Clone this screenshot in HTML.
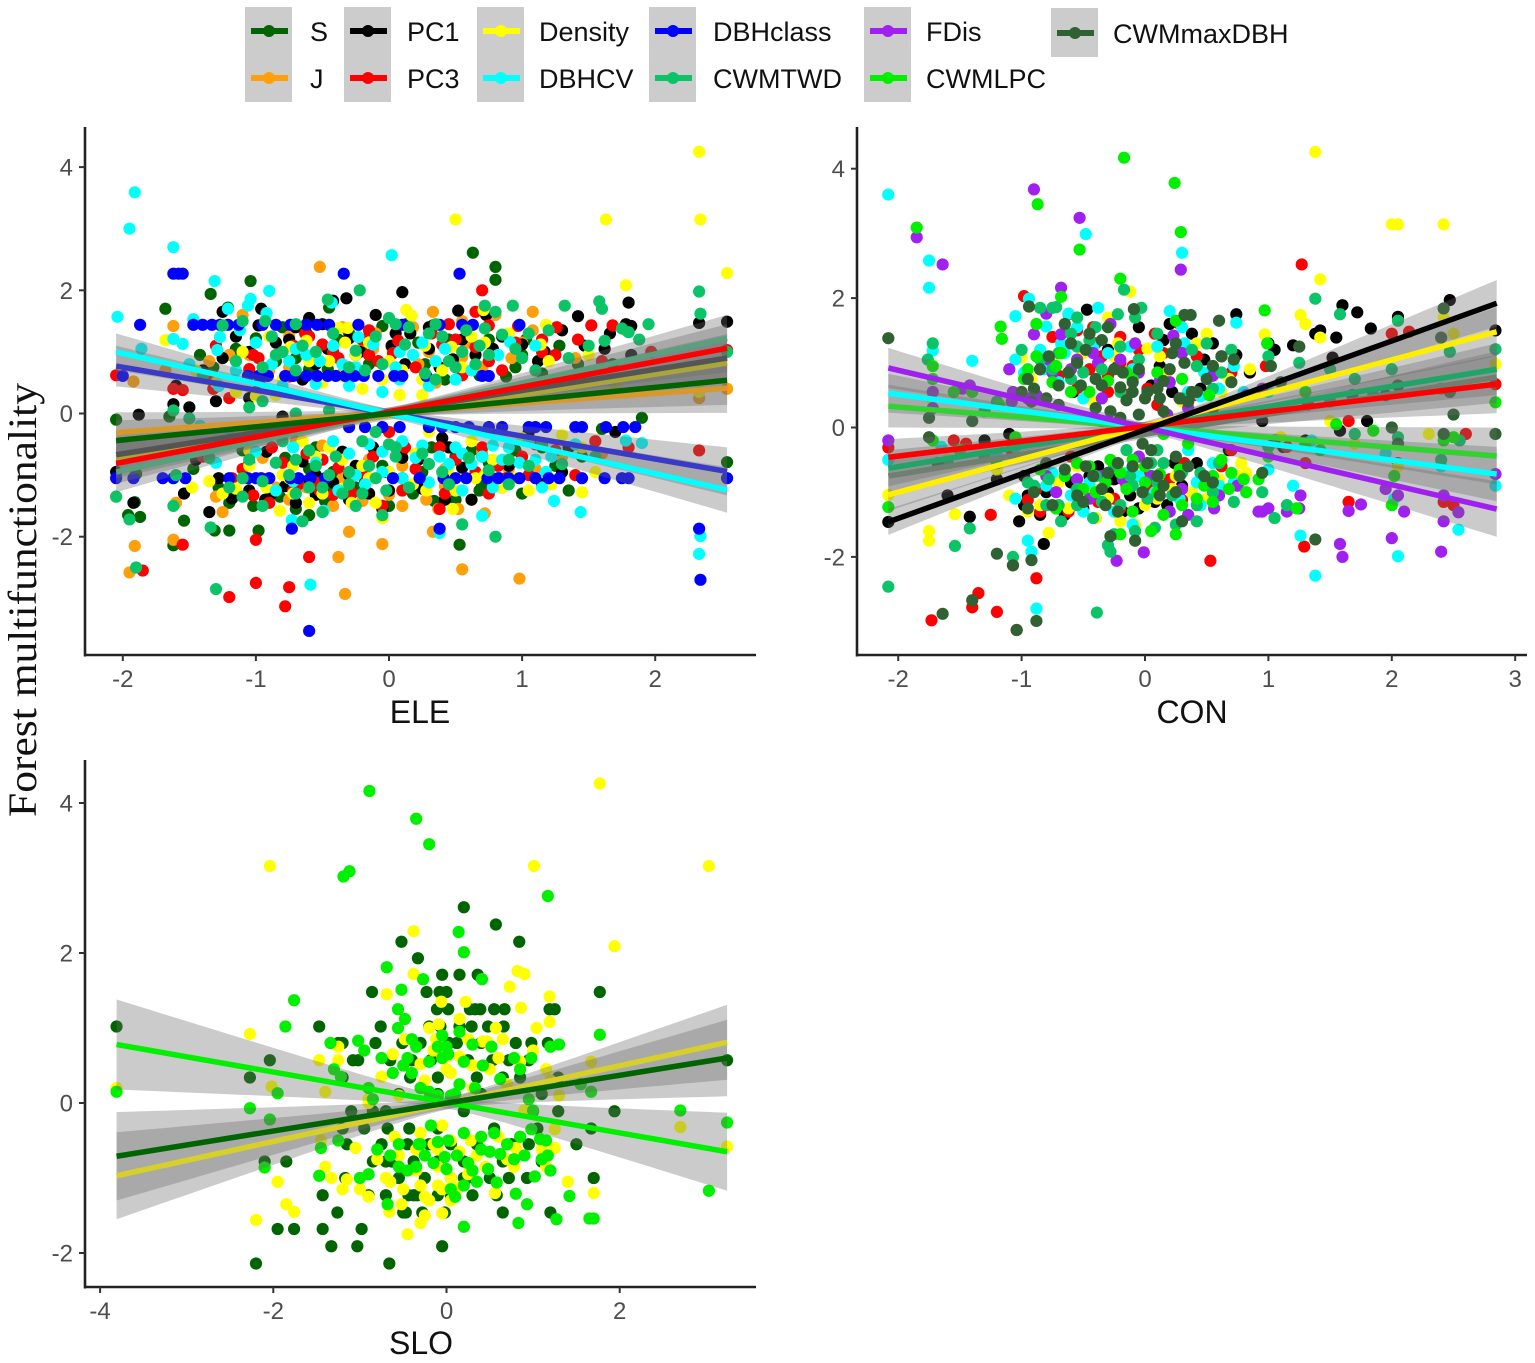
<!DOCTYPE html>
<html lang="en">
<head>
<meta charset="utf-8">
<title>Forest multifunctionality regressions</title>
<style>
html,body{margin:0;padding:0;background:#fff;}
body{width:1535px;height:1363px;overflow:hidden;position:relative;font-family:"Liberation Sans",sans-serif;}
svg{position:absolute;left:0;top:0;}
</style>
</head>
<body>
<svg id="chart" width="1535" height="1363" viewBox="0 0 1535 1363" xmlns="http://www.w3.org/2000/svg"></svg>
<script>
/* ---------- categories ---------- */
const legendRow1 = ['S','PC1','Density','DBHclass','FDis','CWMmaxDBH'];
const legendRow2 = ['J','PC3','DBHCV','CWMTWD','CWMLPC'];
const eleTicksX = [-2,-1,0,1,2];
const conTicksX = [-2,-1,0,1,2,3];
const sloTicksX = [-4,-2,0,2];
const ticksY = [-2,0,2,4];
const eleTicksY = [-2,0,2,4];
const sloTicksY = [-2,0,2,4];

/* ---------- ELE panel ---------- */
const eleSeries = ['Density','J','PC1','CWMTWD','DBHclass','DBHCV','PC3','S'];
const eleLineStart = [-0.72,-0.31,-0.67,-0.95,0.77,1.0,-0.81,-0.44];
const eleLineEnd = [0.82,0.41,0.9,1.22,-0.94,-1.24,1.06,0.54];
const eleBandLeft = [0.33,0.33,0.33,0.33,0.33,0.3,0.33,0.33];
const eleBandRight = [0.39,0.4,0.39,0.38,0.39,0.37,0.39,0.4];
const eleBandMid = [0.07,0.07,0.07,0.07,0.07,0.07,0.07,0.07];

const eleS = [[0.63,2.61],[0.8,2.38],[0.8,2.17],[-1.68,1.7],[-1.34,1.94],[-1.04,2.15],[-1.21,1.72],[-0.45,1.72],[-0.62,1.45],[-0.3,1.3],[0.13,1.45],[0.33,1.43],[0.75,1.2],[1.03,1.2],[-0.8,1.4],[-1.0,1.22],[-0.18,1.05],[0.45,1.2],[0.6,1.25],[1.0,0.95],[1.42,0.8],[1.68,0.8],[-1.32,0.75],[-0.7,0.9],[-0.15,0.8],[0.27,0.8],[-0.46,0.72],[0.88,0.6],[1.15,0.65],[-0.97,0.55],[-2.05,-0.1],[1.9,-0.07],[1.6,-0.25],[1.15,-0.55],[1.45,-0.7],[-1.65,-0.05],[-1.32,-0.5],[-0.95,-0.3],[-0.55,-0.55],[0.1,-0.6],[0.5,-0.7],[0.75,-0.8],[-0.2,-0.9],[-1.9,-0.98],[-1.47,-0.9],[-1.05,-0.8],[-0.6,-0.9],[-1.91,-1.44],[-1.96,-1.65],[-1.87,-1.68],[-1.62,-2.14],[-1.54,-1.74],[-1.31,-1.9],[-1.2,-1.9],[-0.98,-1.9],[0.53,-2.13],[2.54,-0.79],[-1.28,-1.2],[-1.02,-1.5],[-0.7,-1.55],[-0.45,-1.25],[0.0,-1.5],[0.34,-1.42],[0.68,-1.25],[0.83,-1.05],[1.0,-1.3],[-0.25,-1.2],[-0.6,-1.65],[-0.15,-1.3],[0.25,-0.95],[0.7,-1.15]];
const eleJ = [[-0.52,2.38],[0.33,1.65],[1.08,1.65],[0.8,1.6],[-1.62,1.42],[-1.1,1.6],[-0.65,1.4],[-0.35,1.4],[-0.1,1.3],[0.18,1.4],[0.55,1.5],[1.08,1.35],[1.78,1.35],[-1.05,0.95],[-1.2,0.95],[-0.42,1.0],[-0.12,1.05],[0.02,1.08],[0.22,0.8],[0.55,0.92],[0.92,0.9],[1.2,0.9],[-0.75,0.75],[-0.35,0.65],[0.35,0.5],[-1.92,0.52],[-1.68,0.7],[-0.9,0.7],[0.7,0.75],[2.33,0.25],[2.54,0.4],[-1.05,-0.25],[-0.7,-0.45],[-0.15,-0.75],[0.42,-0.9],[0.9,-0.9],[1.3,-0.7],[1.6,-0.65],[-2.05,-1.35],[-1.6,-1.45],[-1.3,-1.35],[-0.85,-1.2],[-0.42,-1.5],[0.0,-1.32],[0.28,-1.4],[0.52,-1.55],[-1.62,-2.05],[-1.91,-2.15],[-1.95,-2.58],[-0.3,-1.92],[-0.38,-2.33],[0.33,-1.92],[0.37,-1.55],[0.55,-2.53],[0.98,-2.68],[-0.33,-2.93],[0.72,-1.62],[0.1,-1.5],[-0.05,-2.12],[-0.35,-1.05],[-1.25,-1.6],[-0.62,-1.2]];
const elePC1 = [[-0.42,1.83],[-0.32,1.87],[0.1,1.97],[0.52,1.67],[1.42,1.58],[1.8,1.8],[1.82,1.42],[1.78,1.45],[1.66,1.3],[2.33,1.47],[2.54,1.49],[0.73,1.6],[0.3,1.4],[-0.1,1.6],[-0.6,1.55],[-0.5,1.45],[-0.7,1.4],[-0.96,1.7],[-1.25,1.65],[-0.98,1.43],[-0.75,1.2],[-0.62,1.3],[-0.22,1.0],[0.16,1.3],[0.02,1.1],[0.55,1.2],[0.85,1.25],[1.17,1.0],[1.47,1.1],[1.82,0.95],[-1.05,1.0],[-1.25,0.9],[-0.46,1.05],[-0.25,0.95],[0.12,0.8],[0.38,0.75],[0.65,0.95],[1.12,0.85],[-1.6,0.45],[-1.28,0.45],[-0.65,0.55],[-1.88,-0.02],[-1.62,0.15],[-1.5,0.1],[-1.3,0.2],[-1.05,0.25],[1.05,-0.3],[-0.8,-0.05],[-0.45,-0.1],[0.4,-0.4],[0.45,-0.55],[0.7,-0.7],[-0.12,-0.55],[-0.25,-0.85],[0.1,-0.72],[0.75,-1.0],[0.9,-0.85],[-2.05,-0.95],[-1.92,-1.45],[-1.54,-1.3],[-1.28,-1.05],[-1.35,-1.6],[-1.05,-1.25],[-0.93,-1.4],[-0.88,-1.3],[-0.7,-1.45],[-0.62,-1.1],[-0.55,-1.32],[-0.3,-1.4],[-0.15,-1.3],[-0.05,-1.55],[0.0,-1.25],[0.42,-1.4],[0.1,-1.05],[-0.3,-1.0],[-0.55,-1.0]];
const elePC3 = [[0.7,2.0],[0.65,1.65],[0.5,1.2],[0.45,1.45],[-0.63,1.3],[-0.42,1.0],[-0.15,0.95],[-0.6,1.25],[-0.15,1.35],[0.07,1.18],[0.32,1.3],[0.75,1.43],[0.97,1.42],[1.26,1.4],[1.52,1.43],[1.68,1.43],[1.97,1.0],[2.54,1.03],[-1.02,0.95],[-0.98,0.9],[-0.38,0.9],[-0.08,0.85],[0.2,0.75],[0.65,1.08],[0.75,0.85],[0.95,1.15],[1.15,1.2],[1.15,1.0],[1.25,0.95],[-2.05,0.62],[-0.75,0.6],[-1.35,0.6],[-1.32,0.4],[-1.2,0.25],[-1.0,0.35],[-1.62,0.4],[-1.55,0.38],[0.3,0.5],[2.33,-0.6],[1.1,-0.5],[1.55,-0.45],[0.0,-0.3],[-0.5,-0.75],[-0.28,-1.0],[-0.52,-1.25],[-0.8,-0.8],[-0.68,-1.15],[-1.02,-1.33],[-1.1,-0.9],[-0.9,-1.05],[0.82,-0.85],[0.5,-0.75],[0.2,-0.9],[-0.3,-1.2],[0.65,-0.95],[0.88,-1.05],[1.05,-1.0],[1.4,-1.0],[1.8,-0.55],[-0.28,-1.3],[-0.42,-1.32],[-0.9,-1.45],[-0.72,-1.25],[-0.55,-1.12],[-0.05,-1.5],[0.42,-1.3],[-1.55,-2.13],[-1.85,-2.55],[-1.2,-2.98],[-1.0,-2.75],[-0.75,-2.82],[-0.78,-3.13],[-0.6,-2.33],[-1.0,-2.05],[0.38,-1.55]];
const eleDensity = [[2.33,4.25],[2.34,3.15],[0.5,3.15],[1.63,3.15],[2.54,2.28],[1.78,2.08],[0.71,1.68],[0.13,1.68],[0.17,1.59],[-0.38,1.39],[-0.31,1.39],[1.18,1.44],[-1.68,1.19],[-0.74,1.08],[-0.33,1.15],[0.27,1.1],[0.47,1.08],[0.72,1.15],[1.14,1.12],[-0.25,0.95],[-0.45,0.85],[0.55,0.75],[0.1,0.7],[0.0,0.85],[-0.6,0.85],[-0.05,0.55],[-0.2,0.4],[0.08,0.3],[0.25,0.3],[-0.85,0.3],[-1.0,0.28],[-1.15,0.35],[1.35,0.5],[1.7,0.45],[2.33,0.35],[-1.3,0.5],[-0.5,0.5],[-1.2,-0.5],[-0.65,-0.45],[-0.45,-0.55],[-0.55,-0.7],[-0.1,-0.3],[0.05,-0.55],[0.3,-0.3],[0.62,-0.45],[0.45,-0.85],[1.0,-0.4],[1.3,-0.35],[1.45,-0.55],[1.55,-0.95],[-0.8,-1.0],[-0.92,-1.2],[-0.75,-1.05],[-0.72,-1.3],[-0.6,-1.45],[-0.2,-0.85],[-0.15,-1.05],[0.18,-1.15],[0.5,-1.25],[0.45,-1.0],[0.85,-1.2],[1.05,-1.25],[1.45,-1.28],[-1.25,-1.3],[-1.35,-1.1],[-0.1,-1.45],[0.0,-0.95],[0.65,-1.05],[-0.35,-1.22],[-0.82,-1.58],[-0.05,-1.7],[0.48,-1.55],[-1.05,-0.85],[0.78,-0.75]];
const eleDBHCV = [[-1.91,3.59],[-1.95,3.0],[-1.62,2.7],[-2.04,1.57],[-1.31,2.15],[-0.9,1.99],[0.02,2.57],[-1.04,1.86],[-1.06,1.75],[-0.43,1.8],[-1.21,1.7],[-1.47,1.53],[-1.62,1.21],[-1.55,1.13],[-1.29,1.03],[-1.27,1.24],[-0.92,1.63],[-0.23,1.24],[0.91,1.16],[-1.86,1.05],[-1.12,1.35],[-0.75,0.85],[-0.62,0.95],[-0.52,0.85],[-0.35,0.8],[-0.25,0.75],[0.18,0.95],[0.35,0.85],[0.05,0.75],[0.25,1.15],[-1.5,0.8],[-1.28,0.45],[-0.88,0.8],[-0.8,0.45],[-0.55,0.48],[-0.05,0.35],[0.08,0.55],[0.3,0.45],[0.5,0.55],[-1.62,-1.05],[1.9,-0.48],[1.78,-0.44],[2.33,-2.28],[2.34,-1.99],[1.44,-1.6],[1.24,-1.42],[0.7,-1.66],[0.38,-1.94],[-0.59,-2.78],[-0.73,-1.73],[-0.49,-1.58],[-0.3,-0.65],[-0.15,-0.5],[0.1,-0.45],[0.25,-0.52],[0.45,-0.82],[0.5,-0.55],[0.55,-0.65],[0.38,-0.7],[0.7,-0.7],[0.85,-0.75],[0.98,-0.8],[1.1,-0.75],[1.18,-0.95],[1.15,-1.2],[1.4,-0.5],[1.05,-0.45],[-0.38,-1.25],[-0.55,-0.8],[-1.2,-0.25],[-1.42,-0.2],[-0.9,-0.35],[-1.1,-0.45],[-0.25,-1.0],[-0.05,-0.95],[0.1,-1.05],[0.55,-1.25],[-0.72,-1.1]];
const eleDBHclass = [[-1.87,1.44],[-1.47,1.44],[-1.4,1.44],[-1.33,1.44],[-1.27,1.44],[-1.21,1.44],[-1.13,1.44],[-0.95,1.44],[-0.85,1.44],[-0.74,1.44],[-0.62,1.44],[-0.54,1.44],[-0.45,1.44],[-0.23,1.44],[0.1,1.44],[0.38,1.44],[0.55,1.44],[0.63,1.44],[0.98,1.44],[-1.62,2.27],[-1.58,2.27],[-1.55,2.27],[-0.34,2.27],[0.53,2.27],[-2.0,0.61],[-1.06,0.61],[-0.98,0.61],[-0.95,0.61],[-0.91,0.61],[-0.78,0.61],[-0.72,0.61],[-0.62,0.61],[-0.54,0.61],[-0.46,0.61],[-0.4,0.61],[-0.33,0.61],[-0.26,0.61],[-0.19,0.61],[-0.08,0.61],[0.04,0.61],[0.1,0.61],[0.28,0.61],[0.7,0.61],[0.75,0.61],[-0.3,-0.22],[-0.18,-0.22],[-0.05,-0.22],[0.08,-0.22],[0.3,-0.22],[0.4,-0.22],[0.5,-0.22],[0.6,-0.22],[0.75,-0.22],[0.85,-0.22],[1.05,-0.22],[1.1,-0.22],[1.18,-0.22],[1.4,-0.22],[1.45,-0.22],[1.63,-0.22],[1.76,-0.22],[1.85,-0.22],[-2.05,-1.05],[-1.92,-1.05],[-1.7,-1.05],[-1.62,-1.05],[-1.53,-1.05],[-1.2,-1.05],[-1.06,-1.05],[-1.0,-1.05],[-0.96,-1.05],[-0.9,-1.05],[-0.74,-1.05],[-0.68,-1.05],[-0.59,-1.05],[-0.48,-1.05],[0.03,-1.05],[0.23,-1.05],[0.41,-1.05],[0.5,-1.05],[0.58,-1.05],[0.74,-1.05],[0.82,-1.05],[0.9,-1.05],[0.98,-1.05],[1.1,-1.05],[1.2,-1.05],[1.28,-1.05],[1.45,-1.05],[1.62,-1.05],[1.75,-1.05],[1.8,-1.05],[2.54,-1.05],[-0.73,-1.87],[0.38,-1.87],[2.33,-1.87],[2.34,-2.7],[-0.6,-3.53]];
const eleCWMTWD = [[2.33,1.98],[2.34,1.62],[1.58,1.82],[1.6,1.7],[1.32,1.75],[0.93,1.75],[0.72,1.75],[0.8,1.65],[-0.46,1.85],[-0.22,2.0],[-1.1,1.5],[-1.25,1.43],[-0.93,1.5],[-0.88,1.25],[-0.85,0.95],[-0.7,1.45],[-0.65,1.1],[-0.55,1.0],[-0.25,1.02],[0.0,1.55],[0.05,1.45],[-0.1,1.25],[0.15,1.4],[0.3,1.3],[0.35,1.45],[0.58,1.35],[0.72,1.38],[0.85,1.28],[0.95,1.05],[1.0,0.9],[1.05,1.3],[1.2,1.35],[1.5,1.1],[1.75,1.38],[1.95,1.45],[1.8,1.32],[1.88,1.2],[0.55,1.0],[0.75,0.95],[0.65,0.8],[0.45,0.85],[-0.95,0.75],[-0.7,0.7],[-0.3,0.75],[-0.05,0.8],[0.27,0.65],[0.35,0.55],[0.5,0.75],[2.54,1.0],[-1.62,0.05],[-1.5,-0.08],[-1.05,0.1],[-0.95,0.2],[-0.7,0.0],[-0.45,0.05],[0.0,-0.5],[0.05,-0.7],[-0.2,-0.45],[-0.15,-0.85],[-0.4,-0.7],[-0.6,-0.6],[-0.55,-0.85],[-0.8,-0.45],[-0.85,-0.8],[-0.7,-0.75],[-0.45,-1.0],[-0.3,-0.95],[-0.2,-1.3],[-0.1,-0.3],[0.05,-0.55],[0.15,-1.2],[0.25,-0.65],[0.4,-0.95],[0.45,-1.15],[0.9,-1.15],[1.15,-0.5],[1.55,-0.7],[-1.6,-1.0],[-2.05,-1.35],[-1.95,-1.72],[-1.9,-2.5],[-1.34,-1.85],[-1.62,-1.5],[-1.2,-1.2],[-1.1,-1.05],[-0.95,-1.5],[-0.65,-1.75],[-0.5,-1.6],[-0.3,-1.15],[-0.25,-1.5],[-0.05,-1.65],[0.55,-1.8],[0.8,-2.0],[-1.3,-2.85],[-0.95,-1.1],[-0.7,-1.3],[0.9,-0.75]];

/* additional points read from the crowded central cloud of the ELE panel */
const eleMoreS = [[-0.85,0.85],[-0.6,0.72],[-0.38,1.2],[-0.05,1.42],[0.22,1.15],[0.42,0.55],[0.68,0.62],[0.95,0.75],[1.28,1.1],[-1.15,1.05],[-1.42,0.95],[-1.1,-0.6],[-0.78,-0.72],[-0.42,-0.95],[-0.05,-0.85],[0.32,-0.55],[0.62,-0.6],[0.95,-0.6],[1.25,-0.85],[1.35,-1.25],[-1.2,-1.45],[-0.82,-1.35],[-0.48,-1.42],[0.18,-1.3],[0.5,-1.4]];
const eleMorePC1 = [[-1.15,1.25],[-0.85,1.15],[-0.55,0.8],[-0.3,1.22],[0.05,1.3],[0.3,1.05],[0.48,0.88],[0.78,1.05],[1.0,1.12],[1.3,1.35],[1.62,1.05],[-1.4,0.7],[-0.92,-0.62],[-0.65,-0.78],[-0.35,-0.62],[-0.02,-0.95],[0.22,-0.75],[0.55,-0.88],[0.85,-1.2],[1.15,-1.15],[1.35,-0.55],[-1.18,-1.38],[-0.78,-1.18],[-0.42,-1.12],[-0.18,-1.12],[0.25,-1.22],[0.62,-1.4],[-1.45,-0.75],[1.7,-0.3],[1.3,-0.95]];
const eleMorePC3 = [[-1.3,1.1],[-1.05,0.72],[-0.72,1.1],[-0.5,1.12],[-0.2,1.2],[0.03,0.98],[0.4,1.12],[0.55,0.62],[0.85,0.7],[1.42,1.2],[1.6,0.85],[-0.88,-0.55],[-0.62,-0.65],[-0.38,-0.88],[-0.12,-0.7],[0.12,-0.55],[0.38,-0.55],[0.7,-0.55],[1.0,-0.7],[1.25,-0.6],[-1.4,-0.7],[-1.18,-1.05],[-0.18,-1.0],[0.1,-1.25],[0.75,-1.3]];
const eleMoreDensity = [[-1.1,1.0],[-0.9,1.25],[-0.62,1.18],[-0.15,1.15],[0.25,0.55],[0.4,0.7],[0.62,1.25],[0.9,1.3],[1.2,0.85],[1.5,0.95],[-1.45,0.7],[-0.8,0.55],[-0.35,0.6],[-1.05,-0.6],[-0.72,-0.85],[-0.35,-0.75],[0.2,-0.65],[0.72,-1.0],[0.95,-1.05],[1.22,-1.15],[-1.48,-1.2],[-1.15,-1.22],[-0.5,-1.3],[-0.28,-1.45],[0.28,-1.25]];
const eleMoreDBHCV = [[-1.0,1.15],[-0.7,1.05],[-0.42,1.1],[-0.12,1.12],[0.08,1.0],[0.42,1.05],[0.62,0.7],[0.82,0.95],[1.1,1.1],[-1.15,0.7],[-0.3,0.45],[-1.0,-0.62],[-0.72,-0.55],[-0.42,-0.45],[-0.05,-0.62],[0.2,-0.72],[0.62,-0.82],[0.78,-0.52],[0.9,-0.55],[1.22,-0.7],[-0.85,-1.25],[-0.18,-1.15],[0.3,-1.12],[0.78,-1.2],[-1.3,-0.8]];
const eleMoreCWMTWD = [[-1.4,0.6],[-1.15,0.85],[-0.8,1.0],[-0.42,1.3],[-0.18,0.7],[0.12,1.12],[0.4,1.25],[0.68,1.1],[1.1,0.7],[1.35,0.9],[1.62,1.18],[-1.35,-0.72],[-1.05,-0.75],[-0.75,-1.0],[-0.6,-1.2],[-0.35,-1.3],[-0.1,-1.05],[-0.02,-1.25],[0.3,-0.82],[0.6,-0.72],[0.75,-0.92],[1.05,-0.85],[1.3,-0.82],[-1.1,-1.35],[-0.5,-1.2]];
const eleMoreJ = [[-1.35,0.85],[-0.75,1.25],[-0.2,1.18],[0.3,1.0],[0.6,1.15],[1.0,1.15],[1.4,0.9],[-0.95,-0.72],[-0.5,-0.52],[0.1,-0.85],[0.7,-0.62],[1.1,-0.9],[-0.75,-1.4],[-0.2,-1.42],[0.42,-1.18]];

/* ---------- CON panel ---------- */
const conSeries = ['CWMmaxDBH','CWMTWD','CWMLPC','DBHCV','FDis','Density','PC3','PC1'];
const conLineStart = [-0.75,-0.63,0.33,0.53,0.92,-1.04,-0.46,-1.46];
const conLineEnd = [0.78,0.9,-0.44,-0.72,-1.26,1.48,0.67,1.92];
const conBandLeft = [0.28,0.28,0.33,0.3,0.31,0.25,0.28,0.2];
const conBandRight = [0.4,0.4,0.44,0.42,0.43,0.38,0.45,0.36];
const conBandMid = [0.07,0.07,0.07,0.07,0.07,0.07,0.07,0.07];

const conPC1 = [[1.6,1.89],[1.72,1.78],[1.83,1.53],[1.55,1.39],[2.47,1.97],[2.05,1.71],[2.84,1.5],[1.42,1.5],[1.2,1.27],[1.05,1.2],[1.0,1.3],[0.74,1.75],[0.74,1.12],[-0.47,1.82],[-0.05,1.55],[0.2,1.6],[0.15,1.35],[0.55,1.3],[0.62,1.1],[-0.22,0.95],[0.05,0.65],[0.22,0.55],[0.45,0.6],[-0.58,0.55],[-0.85,0.9],[1.38,1.45],[1.52,1.08],[-2.08,-1.46],[-1.42,-1.38],[-0.82,-1.8],[-1.02,-1.45],[-0.95,-1.05],[-0.8,-1.0],[-0.72,-1.25],[-0.5,-1.25],[-0.38,-0.6],[-0.3,-1.0],[-0.18,-1.3],[-0.05,-1.25],[0.08,-1.15],[0.24,-0.55],[0.3,-0.9],[-0.6,-0.85],[1.12,-0.3],[1.3,-0.2],[0.95,0.1],[-1.2,-0.8],[-1.6,-1.05],[-1.3,-0.2],[-1.1,-0.1],[0.68,-0.35],[-0.45,-0.75],[1.58,-0.05],[1.8,0.1],[-0.98,-0.75]];
const conPC3 = [[-0.98,2.03],[0.08,1.45],[2.0,1.45],[2.14,1.48],[1.27,2.52],[-0.75,1.4],[-0.62,1.75],[-0.42,1.55],[-0.4,1.3],[-0.35,1.1],[-0.2,1.0],[-0.1,0.95],[0.15,1.15],[0.28,1.6],[0.5,1.3],[-0.7,0.8],[-0.3,0.55],[0.02,0.6],[0.1,0.35],[0.4,0.5],[0.98,0.95],[2.84,0.67],[-0.55,0.6],[-0.15,0.5],[1.65,0.1],[1.32,0.35],[-2.08,-0.31],[-1.45,-0.25],[-1.08,-0.35],[-0.6,-0.45],[-1.73,-2.98],[-1.4,-2.78],[-1.35,-2.56],[-1.2,-2.85],[-1.04,-3.13],[-0.88,-2.33],[0.53,-2.06],[1.29,-1.84],[1.65,-1.15],[-1.07,-2.13],[-1.25,-1.35],[-0.95,-1.12],[-0.85,-1.3],[-0.25,-1.1],[-0.2,-1.25],[0.05,-0.9],[0.2,-0.8],[0.3,-1.12],[0.45,-0.7],[0.7,-0.35],[1.3,-0.55],[2.05,-0.55],[2.42,-1.15],[2.5,-1.2],[2.6,-0.1],[-1.55,-0.2],[1.15,-0.3],[-0.4,-1.4]];
const conDensity = [[1.38,4.26],[2.0,3.14],[2.05,3.14],[2.42,3.14],[1.42,2.29],[1.26,1.74],[1.3,1.6],[1.42,1.39],[2.84,0.98],[0.97,1.44],[-0.12,2.1],[-0.3,1.7],[0.5,1.45],[-0.22,1.3],[-0.75,1.1],[-1.0,1.08],[0.12,1.1],[0.55,0.95],[0.18,0.85],[-0.42,0.4],[0.3,0.4],[0.62,0.55],[2.42,1.7],[2.5,1.45],[-1.73,0.45],[-2.08,-1.04],[-1.75,-1.6],[-1.75,-1.75],[-1.54,-1.34],[-0.78,-1.63],[-0.85,-1.2],[-0.5,-1.05],[-0.4,-1.4],[-0.3,-1.1],[-0.2,-1.45],[-0.08,-1.5],[0.1,-1.1],[0.25,-0.75],[0.38,-1.0],[0.6,-0.8],[0.78,-0.55],[1.1,-0.15],[1.5,0.1],[1.7,-0.25],[2.05,-0.6],[2.3,-0.1],[-0.55,-0.6],[-0.7,-0.85],[-1.2,-0.65],[-1.6,-0.5],[-0.05,-0.65],[-1.1,-1.05],[0.82,-0.7],[0.0,-1.2]];
const conDBHCV = [[-2.08,3.6],[-0.48,2.99],[0.3,2.7],[-1.75,2.58],[-1.75,2.16],[-0.94,1.99],[-1.05,1.72],[-0.62,1.76],[-0.38,1.85],[0.2,1.8],[0.74,1.62],[-1.4,1.03],[-1.72,1.19],[-0.8,1.56],[-0.68,1.3],[-0.65,1.15],[-0.3,1.15],[0.3,1.55],[0.32,1.3],[-0.82,0.9],[-1.05,1.05],[-0.1,0.9],[-0.7,0.7],[0.2,0.7],[0.35,0.55],[0.45,0.48],[0.6,0.6],[1.0,0.55],[0.8,0.55],[-0.5,0.45],[-1.05,-0.3],[-1.65,-0.3],[-2.08,-0.5],[-1.2,-0.45],[1.38,-2.29],[1.26,-1.67],[2.05,-1.99],[2.54,-1.58],[2.84,-0.9],[-0.88,-2.8],[-0.92,-1.92],[-0.95,-1.75],[-1.05,-1.1],[-0.8,-0.9],[-0.6,-1.05],[-0.1,-1.5],[0.08,-1.0],[0.2,-1.3],[0.45,-1.2],[0.55,-0.55],[0.6,-0.9],[1.0,-0.65],[1.2,-0.9],[1.35,-0.2],[1.95,-0.4],[2.02,-1.1],[2.4,-0.6],[-0.15,-0.7],[0.35,-0.35],[-0.45,-0.85]];
const conFDis = [[-0.9,3.68],[-0.53,3.24],[0.29,2.44],[-1.85,2.94],[-1.64,2.52],[-0.68,2.16],[-0.8,1.76],[-0.9,1.44],[-0.68,1.44],[0.23,1.42],[-0.28,1.6],[-0.55,1.05],[-0.78,1.05],[-0.2,1.05],[-0.38,1.0],[-1.1,0.9],[-1.42,0.65],[-1.48,0.6],[-1.08,0.4],[-0.88,0.5],[-0.05,0.85],[0.2,0.7],[0.35,0.3],[0.18,0.2],[0.82,0.5],[0.95,0.6],[-1.72,0.55],[-1.72,0.3],[-1.07,0.55],[-0.95,0.45],[-2.08,-0.2],[2.84,-0.72],[2.54,-1.31],[2.42,-1.45],[2.4,-1.92],[2.0,-1.71],[1.75,-1.19],[1.65,-1.29],[1.6,-2.0],[1.58,-1.8],[-0.23,-2.06],[-0.01,-1.93],[1.26,-1.05],[1.25,-1.25],[0.95,-1.3],[1.15,-1.3],[0.56,-1.25],[0.75,-0.9],[0.92,-1.3],[1.0,-1.25],[0.35,-1.35],[0.2,-1.3],[-0.8,-0.75],[-0.55,-0.8],[-0.35,-0.75],[2.05,-1.05],[2.1,-1.3],[2.42,-1.05],[1.95,-0.95],[-0.3,-0.1]];
const conCWMTWD = [[1.38,1.99],[1.58,1.75],[2.05,1.65],[2.84,1.21],[2.47,1.17],[-0.17,2.13],[-0.72,1.86],[-0.55,1.7],[-0.22,1.75],[-0.4,1.55],[-0.6,1.45],[-0.85,1.85],[-0.75,1.85],[-0.03,1.85],[-0.08,1.7],[0.38,1.2],[0.5,1.3],[0.7,1.2],[-0.55,1.25],[-0.7,1.15],[-0.6,0.75],[-0.35,0.9],[-0.75,0.9],[-1.0,1.2],[-1.72,1.3],[-1.76,1.05],[-0.9,0.6],[1.5,0.9],[1.7,0.75],[1.0,1.1],[1.25,1.0],[2.0,0.9],[2.4,0.6],[1.5,0.4],[1.85,0.5],[-1.2,0.4],[-1.3,0.25],[0.3,0.45],[0.55,0.6],[-0.2,0.55],[-2.08,-2.46],[-0.39,-2.86],[-1.54,-1.83],[-1.42,-1.56],[-1.07,-2.0],[-0.28,-1.92],[-0.3,-1.82],[-0.42,-1.4],[-0.68,-1.45],[-0.55,-1.2],[-0.7,-1.2],[-0.25,-1.65],[-0.08,-1.6],[0.08,-1.55],[0.25,-1.5],[0.42,-1.45],[0.42,-1.2],[0.55,-1.0],[0.72,-1.15],[0.95,-1.0],[1.15,-1.2],[1.05,-1.4],[0.45,-0.7],[0.1,-0.85],[-0.1,-0.9],[-0.25,-0.6],[-0.4,-0.75],[-0.15,-0.35],[0.1,-0.35],[0.15,-0.55],[-0.9,-0.9],[-0.8,-1.2],[-0.95,-0.85],[-1.6,-0.55],[-1.3,-0.45],[2.4,-0.5],[2.55,-0.2],[2.05,-0.15],[1.7,-0.1],[1.0,-0.3]];
const conCWMLPC = [[-0.17,4.17],[0.24,3.78],[-0.87,3.45],[-0.53,2.75],[0.29,3.02],[-1.85,3.09],[-0.2,2.3],[-0.68,2.02],[0.97,1.81],[0.99,1.3],[-1.17,1.56],[-1.16,1.37],[-0.88,1.6],[0.25,1.65],[-0.68,1.15],[-0.88,1.1],[-0.95,0.9],[-0.98,0.75],[-1.72,0.95],[-1.72,0.75],[-1.55,0.55],[-1.4,0.55],[-0.75,0.7],[-0.6,0.55],[-0.45,0.55],[-0.1,0.75],[0.1,0.85],[-1.18,0.35],[-0.35,0.1],[2.84,0.39],[1.3,0.55],[1.55,0.05],[1.85,-0.05],[-2.08,-1.23],[1.23,-1.25],[2.0,-1.2],[2.02,-0.75],[2.5,-0.15],[2.42,-0.2],[0.92,-0.8],[0.7,-0.7],[0.55,-0.75],[0.68,-0.95],[0.82,-1.0],[0.8,-0.8],[0.62,-0.5],[0.42,-1.1],[0.28,-0.65],[0.1,-1.0],[-0.1,-0.5],[-0.2,-0.7],[-0.45,-0.6],[-0.65,-0.75],[-0.85,-0.65],[-0.72,-1.25],[-0.5,-0.95],[-0.2,-1.65],[-0.1,-1.3],[0.05,-1.6],[0.25,-1.65],[0.15,-1.35],[0.0,-0.6],[0.15,-0.1],[1.0,-0.45],[1.3,-0.25],[1.42,-0.35],[-1.05,-0.15],[-1.2,-0.55],[-1.5,-0.35],[-1.72,-0.2],[-0.3,-0.15],[0.35,-0.25]];
const conCWMmaxDBH = [[-2.08,1.38],[-0.94,1.87],[-0.09,1.83],[0.32,1.74],[0.37,1.74],[0.6,1.65],[2.42,1.84],[2.4,1.39],[-0.65,1.6],[-0.35,1.35],[-0.3,1.55],[-0.45,1.45],[-0.6,1.3],[-0.78,1.1],[-0.18,0.85],[-0.1,0.7],[0.02,0.55],[0.25,1.3],[0.32,1.0],[0.62,1.1],[0.72,1.05],[0.5,0.75],[0.2,0.9],[0.12,0.45],[-0.25,0.9],[-0.1,0.55],[-0.35,0.65],[-0.4,0.75],[-0.52,0.65],[-0.7,0.35],[-0.8,0.45],[-0.95,0.75],[-1.0,0.55],[-0.92,0.4],[-0.7,0.65],[0.0,0.45],[0.1,0.6],[0.35,0.4],[0.38,0.55],[0.55,0.3],[1.02,0.95],[1.1,0.7],[1.25,1.25],[-0.28,0.25],[-0.4,0.3],[-0.2,0.15],[-0.05,0.2],[0.15,0.25],[1.68,0.5],[2.05,0.65],[2.5,0.2],[1.95,0.5],[-1.4,0.1],[-1.75,0.15],[-1.75,-0.15],[-1.68,-0.55],[2.84,-0.1],[2.0,0.0],[2.05,-0.25],[2.42,-0.1],[2.47,0.55],[-1.64,-2.88],[-1.4,-2.67],[-1.04,-3.13],[-0.88,-2.99],[-1.2,-1.95],[-1.07,-2.13],[-0.92,-2.05],[1.38,-1.73],[-0.28,-1.68],[-0.08,-1.75],[0.3,-1.45],[-0.22,-1.3],[-0.75,-1.2],[-0.95,-1.25],[-0.5,-1.15],[-0.42,-0.75],[-0.3,-0.7],[-0.65,-0.65],[-0.8,-0.55],[-0.9,-1.0],[0.1,-0.75],[0.12,-1.05],[0.25,-0.45],[0.28,-0.75],[0.55,-0.85],[-0.1,-0.6],[-0.02,-0.25],[0.05,-0.35],[0.95,-0.7],[1.05,-0.2]];

/* additional points read from the crowded central cloud of the CON panel */
const conMorePC1 = [[-0.3,1.2],[0.38,1.45],[0.48,1.05],[0.85,0.85],[0.12,0.95],[-0.65,-1.35],[-0.55,-1.05],[-0.25,-0.8],[0.18,-1.2],[0.42,-0.55],[-0.85,-1.35],[-0.98,-1.2],[-0.12,-1.05]];
const conMorePC3 = [[-0.55,1.5],[-0.2,1.4],[-0.05,1.2],[0.28,1.2],[0.42,1.1],[0.7,0.85],[-0.3,0.8],[-0.45,0.9],[-0.88,-0.95],[-0.62,-1.3],[-0.38,-1.15],[-0.02,-0.7],[0.32,-0.55],[0.62,-0.6],[-0.15,-0.9]];
const conMoreDensity = [[-0.5,1.15],[-0.25,1.1],[0.02,1.22],[0.42,1.3],[0.68,0.75],[0.85,0.9],[-0.92,0.75],[-0.62,-1.25],[-0.42,-0.95],[-0.12,-0.85],[0.22,-0.95],[0.5,-1.1],[0.75,-0.75],[-0.95,-1.3]];
const conMoreDBHCV = [[-0.55,1.55],[-0.42,1.25],[-0.12,1.25],[0.1,1.25],[0.48,0.85],[0.72,0.95],[-0.85,1.2],[-0.98,0.85],[-0.75,-0.7],[-0.5,-1.3],[-0.25,-1.3],[0.28,-1.1],[0.42,-0.85],[0.72,-0.85],[-0.05,-0.75]];
const conMoreFDis = [[-0.6,0.9],[-0.42,1.15],[-0.08,1.3],[0.12,0.72],[0.3,1.15],[0.55,0.8],[-0.75,0.85],[-0.35,0.45],[-0.72,-1.0],[-0.45,-1.1],[-0.18,-0.8],[0.05,-0.75],[0.3,-0.95],[0.6,-1.05],[-0.05,-0.45]];
const conMoreCWMTWD = [[-0.45,1.35],[-0.2,1.25],[-0.05,1.05],[0.1,1.45],[0.22,1.15],[0.42,0.95],[0.62,0.85],[-0.85,1.05],[-0.5,0.85],[-0.12,-0.75],[0.02,-1.1],[0.22,-1.05],[0.3,-0.7],[0.6,-0.55],[-0.55,-0.95],[-0.35,-1.15],[-0.2,-1.2],[0.05,-0.55],[-0.78,-0.8]];
const conMoreCWMLPC = [[-0.55,1.0],[-0.72,0.95],[-0.3,0.72],[-0.15,0.85],[-0.62,0.85],[0.3,0.75],[0.52,0.5],[-0.32,-0.85],[-0.15,-0.95],[0.0,-0.85],[0.12,-0.72],[0.3,-1.2],[0.48,-0.9],[0.55,-1.15],[-0.55,-0.55],[-0.4,-1.0],[-0.28,-0.5]];
const conMoreCWMmaxDBH = [[-0.55,1.0],[-0.62,0.85],[-0.48,1.2],[-0.2,0.62],[-0.05,0.9],[0.15,0.72],[0.22,1.15],[0.42,0.55],[0.55,0.95],[0.7,0.7],[-0.85,0.9],[-0.9,0.6],[-0.15,0.42],[0.28,0.45],[-0.35,-0.95],[-0.55,-1.05],[-0.48,-0.6],[-0.22,-0.55],[0.02,-0.55],[0.15,-0.9],[0.25,-1.0],[0.35,-0.6],[0.48,-0.75],[-0.02,-1.0],[-0.32,-1.2]];

/* ---------- SLO panel ---------- */
const sloSeries = ['Density','CWMLPC','S'];
const sloLineStart = [-0.97,0.78,-0.71];
const sloLineEnd = [0.81,-0.65,0.6];
const sloBandLeft = [0.58,0.6,0.59];
const sloBandRight = [0.5,0.52,0.51];
const sloBandMid = [0.08,0.08,0.08];

const sloS = [[0.2,2.61],[0.57,2.38],[0.84,2.15],[-0.52,2.15],[-0.33,1.93],[-0.05,1.71],[0.15,1.71],[0.36,1.71],[-0.86,1.48],[-0.23,1.48],[-0.08,1.48],[0.0,1.48],[1.77,1.48],[-0.11,1.25],[0.02,1.25],[0.27,1.25],[0.33,1.25],[0.39,1.25],[0.55,1.25],[0.67,1.25],[1.19,1.25],[1.25,1.25],[-3.81,1.02],[-1.47,1.02],[-0.76,1.02],[-0.2,1.02],[-0.07,1.02],[0.15,1.02],[0.29,1.02],[0.48,1.02],[0.66,1.02],[-1.25,0.8],[-1.2,0.8],[-0.82,0.8],[-0.51,0.8],[0.03,0.8],[0.8,0.8],[0.98,0.8],[1.17,0.8],[-2.04,0.57],[-1.08,0.57],[-1.02,0.57],[-0.4,0.57],[0.25,0.57],[0.53,0.57],[0.72,0.57],[3.24,0.57],[-2.27,0.34],[-1.2,0.34],[-0.1,0.34],[0.65,0.34],[1.29,0.34],[-0.55,0.12],[-0.1,0.12],[0.4,0.12],[1.1,0.12],[-1.1,-0.11],[-0.85,-0.11],[-0.7,-0.11],[0.2,-0.11],[1.0,-0.11],[1.29,-0.11],[1.94,-0.11],[-1.2,-0.34],[-0.68,-0.34],[-0.43,-0.34],[-0.1,-0.34],[1.05,-0.34],[1.67,-0.34],[-1.15,-0.55],[-0.45,-0.55],[0.05,-0.55],[0.35,-0.55],[0.95,-0.55],[1.5,-0.55],[-2.1,-0.78],[-1.85,-0.78],[-0.85,-0.78],[-0.7,-0.78],[-0.63,-0.78],[-0.38,-0.78],[-0.1,-0.78],[1.1,-0.78],[-1.17,-1.0],[0.2,-1.0],[0.24,-1.0],[0.5,-1.0],[0.93,-1.0],[1.7,-1.0],[-1.43,-1.23],[-0.9,-1.23],[-0.44,-1.23],[-0.38,-1.23],[-0.34,-1.23],[-0.1,-1.23],[0.05,-1.23],[0.58,-1.23],[-1.26,-1.46],[-0.5,-1.46],[-0.47,-1.46],[-0.28,-1.46],[-0.02,-1.46],[0.65,-1.46],[1.2,-1.46],[-1.95,-1.68],[-1.76,-1.68],[-1.43,-1.68],[-0.98,-1.68],[-1.33,-1.91],[-1.03,-1.91],[-0.05,-1.91],[-2.2,-2.14],[-0.66,-2.14]];
const sloDensity = [[1.77,4.26],[-2.04,3.16],[1.01,3.16],[3.03,3.16],[-0.38,2.29],[1.94,2.09],[0.82,1.76],[0.9,1.72],[0.73,1.55],[-0.38,1.72],[-0.69,1.45],[-0.06,1.35],[0.22,1.35],[0.86,1.27],[1.19,1.42],[0.15,1.12],[1.04,1.0],[1.19,1.08],[0.57,1.0],[-0.2,1.0],[-0.09,1.05],[-0.48,0.85],[-2.27,0.92],[-1.25,0.75],[0.42,0.82],[0.47,0.82],[-1.47,0.57],[-1.25,0.57],[-0.3,0.52],[0.0,0.62],[0.15,0.62],[0.3,0.5],[0.6,0.6],[0.85,0.55],[1.0,0.7],[1.67,0.55],[1.2,0.3],[-0.9,0.0],[0.0,0.45],[-0.25,0.3],[0.05,0.4],[0.3,0.2],[0.7,0.25],[1.15,0.45],[-2.02,0.22],[-1.4,0.15],[-0.9,0.05],[-0.55,0.1],[0.9,-0.1],[1.3,0.1],[-0.05,-0.3],[0.05,-0.5],[-0.3,-0.4],[-0.15,-0.55],[0.15,-0.65],[0.35,-0.7],[0.8,-0.6],[1.25,-0.35],[1.25,-0.6],[2.7,-0.32],[3.24,-0.58],[-3.81,0.2],[-1.45,-0.5],[-1.05,-0.6],[-0.8,-0.75],[-0.7,-1.0],[-0.55,-0.7],[-0.35,-0.9],[-0.1,-0.85],[0.05,-1.0],[0.25,-0.95],[0.7,-0.75],[0.78,-0.85],[-1.4,-0.85],[-1.33,-1.0],[-1.15,-1.02],[-1.2,-1.15],[-1.0,-1.15],[-0.9,-1.25],[-0.65,-1.05],[-0.3,-1.1],[-0.1,-1.1],[-0.25,-1.25],[-0.05,-1.15],[0.56,-1.2],[0.27,-0.85],[1.4,-1.05],[1.7,-1.2],[-2.2,-1.56],[-1.95,-1.05],[-1.85,-1.35],[-1.76,-1.45],[-0.52,-1.35],[-0.66,-1.45],[-0.25,-1.5],[-0.05,-1.47],[-0.45,-1.75],[-0.3,-1.6]];
const sloCWMLPC = [[-0.89,4.16],[-0.35,3.79],[-0.2,3.45],[-1.19,3.02],[-1.12,3.09],[1.17,2.76],[0.14,2.28],[0.2,2.01],[-0.69,1.81],[-0.27,1.65],[0.41,1.65],[-0.52,1.51],[-1.76,1.37],[-1.86,1.02],[-0.56,1.25],[-0.48,1.12],[-0.56,1.0],[1.77,0.91],[-1.34,0.8],[-1.02,0.83],[-0.95,0.7],[-0.4,0.85],[-0.75,0.6],[-0.45,0.6],[-0.35,0.75],[-0.05,0.9],[0.0,0.75],[-0.1,0.75],[-0.05,0.6],[0.02,0.65],[0.42,0.5],[0.52,0.75],[0.85,0.45],[0.98,0.6],[1.2,0.75],[1.3,0.78],[-0.5,0.5],[-0.4,0.4],[-0.3,0.2],[0.15,0.25],[0.05,0.1],[-0.1,0.1],[-0.2,0.15],[0.1,0.12],[0.33,0.2],[-1.3,0.45],[-1.22,0.35],[-0.9,0.2],[-0.85,0.05],[0.95,0.05],[1.0,-0.1],[1.55,0.25],[1.67,0.15],[-1.95,0.13],[-3.81,0.15],[-2.27,-0.07],[-2.04,-0.22],[2.7,-0.1],[3.24,-0.26],[3.03,-1.17],[-1.45,-0.6],[-1.25,-0.5],[-0.55,-0.55],[-0.3,-0.55],[-0.1,-0.52],[0.02,-0.5],[0.2,-0.4],[0.4,-0.45],[0.55,-0.4],[0.7,-0.55],[0.85,-0.45],[0.98,-0.35],[1.15,-0.5],[-0.65,-0.7],[-0.45,-0.9],[-0.35,-0.85],[-0.15,-0.8],[0.12,-0.7],[0.25,-0.8],[0.3,-0.9],[0.5,-0.65],[0.9,-0.7],[1.17,-0.7],[1.2,-0.9],[1.02,-0.98],[-1.0,-1.0],[-0.9,-0.95],[0.05,-1.15],[0.1,-1.25],[0.2,-1.1],[0.35,-1.05],[-2.1,-0.86],[-1.47,-0.97],[-0.68,-1.35],[0.58,-1.06],[0.8,-1.21],[0.93,-1.35],[1.42,-1.24],[0.83,-1.6],[1.27,-1.55],[1.65,-1.54],[1.7,-1.54],[0.2,-1.65]];

/* additional points read from the crowded central cloud of the SLO panel */
const sloMoreS = [[-0.3,0.8],[0.12,0.8],[0.4,0.8],[-0.65,0.57],[-0.18,0.57],[0.95,0.57],[-0.42,0.34],[0.35,0.34],[0.85,0.34],[-0.95,-0.34],[0.55,-0.34],[0.75,-0.55],[-0.75,-0.55],[-0.2,-0.55],[0.2,-0.78],[0.65,-0.78],[-0.55,-1.0],[-0.25,-1.0],[0.05,-1.0],[0.72,-1.0],[-0.7,-1.23],[0.3,-1.23]];
const sloMoreDensity = [[-0.12,0.85],[0.25,0.85],[0.65,0.85],[-0.62,0.65],[-0.15,0.7],[0.5,0.45],[-0.75,0.35],[-0.1,-0.62],[0.28,-0.5],[0.6,-0.45],[1.1,-0.62],[-0.6,-0.45],[-0.35,-0.62],[0.45,-0.85],[1.15,-0.85],[-0.2,-1.3],[0.15,-1.12],[-0.5,-1.15],[0.05,-1.3]];
const sloMoreCWMLPC = [[-0.2,0.55],[0.2,0.55],[0.3,0.78],[-0.62,0.4],[0.15,0.95],[0.62,0.32],[0.78,0.6],[-0.18,-0.3],[-0.55,-0.85],[-0.02,-0.72],[0.4,-0.62],[0.62,-0.68],[0.78,-0.75],[-0.32,-0.55],[-0.8,-0.62],[0.0,-0.88],[0.48,-0.88],[-0.25,-0.7],[1.08,-0.48],[1.1,-0.75]];

/* ---------- style tables (kept apart from the data) ---------- */
const pointColors = {S:'#006400',J:'#ff9f0a',PC1:'#000000',PC3:'#ff0000',Density:'#ffff00',DBHCV:'#00ffff',DBHclass:'#0000ff',CWMTWD:'#0cc468',FDis:'#a020f0',CWMLPC:'#00f000',CWMmaxDBH:'#2f6132'};
const keyColors = {S:'#006400',J:'#ff9f0a',PC1:'#000000',PC3:'#ff0000',Density:'#ffff00',DBHCV:'#00ffff',DBHclass:'#0000ff',CWMTWD:'#0cc468',FDis:'#a020f0',CWMLPC:'#00f000',CWMmaxDBH:'#2f6132'};
const eleLineColors = {S:'#006400',J:'#d9982c',PC1:'#555555',PC3:'#ff0000',Density:'#a8a63a',DBHCV:'#00ffff',DBHclass:'#3a3ac8',CWMTWD:'#5a9f7e'};
const conLineColors = {CWMmaxDBH:'#6f8070',CWMTWD:'#1fa567',CWMLPC:'#32d232',DBHCV:'#00ffff',FDis:'#a020f0',Density:'#ffee00',PC3:'#ff0000',PC1:'#000000'};
const sloLineColors = {S:'#006400',Density:'#d8d02a',CWMLPC:'#00f000'};

const SVGNS = 'http://www.w3.org/2000/svg';
const root = document.getElementById('chart');

function mk(tag, attrs, parent){
  const e = document.createElementNS(SVGNS, tag);
  for (const k in attrs) e.setAttribute(k, attrs[k]);
  (parent || root).appendChild(e);
  return e;
}

function drawPanel(cfg){
  const sx = v => cfg.x0 + v * cfg.xUnit;
  const sy = v => cfg.y0 - v * cfg.yUnit;
  const g = mk('g', {});
  
  

  const pts = mk('g', {}, g);
  
  
  cfg.pointOrder.forEach(function(item){
    item[1].forEach(function(p){
      const c = mk('circle', {cx: sx(p[0]), cy: sy(p[1]), r: 6.1, fill: pointColors[item[0]]}, pts);
      
      
    });
  });

  const bands = mk('g', {}, g);
  
  
  cfg.series.forEach(function(s, i){
    const y1 = cfg.lineStart[i], y2 = cfg.lineEnd[i];
    const up = [], lo = [];
    const N = 40;
    for (let k = 0; k <= N; k++){
      const x = cfg.xMin + (cfg.xMax - cfg.xMin) * k / N;
      const fit = y1 + (y2 - y1) * (x - cfg.xMin) / (cfg.xMax - cfg.xMin);
      const end = x < 0 ? cfg.bandLeft[i] : cfg.bandRight[i];
      const xEnd = x < 0 ? cfg.xMin : cfg.xMax;
      const m = cfg.bandMid[i];
      const hw = Math.sqrt(m * m + (end * end - m * m) * (x / xEnd) * (x / xEnd));
      up.push(sx(x).toFixed(1) + ',' + sy(fit + hw).toFixed(1));
      lo.unshift(sx(x).toFixed(1) + ',' + sy(fit - hw).toFixed(1));
    }
    const b = mk('polygon', {points: up.concat(lo).join(' '), fill: '#696969', 'fill-opacity': 0.35}, bands);
    
    
  });

  cfg.series.forEach(function(s, i){
    const l = mk('line', {x1: sx(cfg.xMin), y1: sy(cfg.lineStart[i]), x2: sx(cfg.xMax), y2: sy(cfg.lineEnd[i]), stroke: cfg.lineColors[s], 'stroke-width': 5.5}, g);
    
    
  });

  const axY = mk('line', {x1: cfg.left, y1: cfg.top, x2: cfg.left, y2: cfg.bottom + 1.5, stroke: '#222', 'stroke-width': 2.6}, g);
  
  
  const axX = mk('line', {x1: cfg.left - 1, y1: cfg.bottom, x2: cfg.right, y2: cfg.bottom, stroke: '#222', 'stroke-width': 2.6}, g);
  
  

  cfg.xTicks.forEach(function(t){
    const m = mk('line', {x1: sx(t), y1: cfg.bottom, x2: sx(t), y2: cfg.bottom + 6, stroke: '#333', 'stroke-width': 2}, g);
    
    
    const tx = mk('text', {x: sx(t), y: cfg.bottom + 32, 'text-anchor': 'middle', 'font-size': 24, fill: '#4d4d4d', 'font-family': '"Liberation Sans",sans-serif'}, g);
    tx.textContent = String(t);
    
    
  });
  cfg.yTicks.forEach(function(t){
    const m = mk('line', {x1: cfg.left - 6, y1: sy(t), x2: cfg.left, y2: sy(t), stroke: '#333', 'stroke-width': 2}, g);
    
    
    const tx = mk('text', {x: cfg.left - 12, y: sy(t) + 8.5, 'text-anchor': 'end', 'font-size': 24, fill: '#4d4d4d', 'font-family': '"Liberation Sans",sans-serif'}, g);
    tx.textContent = String(t);
    
    
  });
  const title = mk('text', {x: cfg.titleX, y: cfg.titleY, 'text-anchor': 'middle', 'font-size': 32, fill: '#111', 'font-family': '"Liberation Sans",sans-serif'}, g);
  title.textContent = cfg.title;
  
  
}

drawPanel({name:'ele',title:'ELE',titleX:420,titleY:723,left:85,right:756,top:127,bottom:655,x0:389,xUnit:133.1,y0:413.5,yUnit:61.6,xMin:-2.05,xMax:2.54,xTicks:eleTicksX,yTicks:eleTicksY,series:eleSeries,lineStart:eleLineStart,lineEnd:eleLineEnd,bandLeft:eleBandLeft,bandRight:eleBandRight,bandMid:eleBandMid,lineColors:eleLineColors,pointOrder:[['S',eleS.concat(eleMoreS)],['J',eleJ.concat(eleMoreJ)],['PC1',elePC1.concat(eleMorePC1)],['PC3',elePC3.concat(eleMorePC3)],['Density',eleDensity.concat(eleMoreDensity)],['DBHCV',eleDBHCV.concat(eleMoreDBHCV)],['DBHclass',eleDBHclass],['CWMTWD',eleCWMTWD.concat(eleMoreCWMTWD)]]});
drawPanel({name:'con',title:'CON',titleX:1192,titleY:723,left:857,right:1527,top:127,bottom:655,x0:1145,xUnit:123.4,y0:427.5,yUnit:64.7,xMin:-2.08,xMax:2.85,xTicks:conTicksX,yTicks:ticksY,series:conSeries,lineStart:conLineStart,lineEnd:conLineEnd,bandLeft:conBandLeft,bandRight:conBandRight,bandMid:conBandMid,lineColors:conLineColors,pointOrder:[['PC1',conPC1.concat(conMorePC1)],['PC3',conPC3.concat(conMorePC3)],['Density',conDensity.concat(conMoreDensity)],['DBHCV',conDBHCV.concat(conMoreDBHCV)],['FDis',conFDis.concat(conMoreFDis)],['CWMTWD',conCWMTWD.concat(conMoreCWMTWD)],['CWMLPC',conCWMLPC.concat(conMoreCWMLPC)],['CWMmaxDBH',conCWMmaxDBH.concat(conMoreCWMmaxDBH)]]});
drawPanel({name:'slo',title:'SLO',titleX:421,titleY:1354,left:85,right:756,top:760,bottom:1287,x0:446.5,xUnit:86.6,y0:1103,yUnit:75,xMin:-3.81,xMax:3.24,xTicks:sloTicksX,yTicks:sloTicksY,series:sloSeries,lineStart:sloLineStart,lineEnd:sloLineEnd,bandLeft:sloBandLeft,bandRight:sloBandRight,bandMid:sloBandMid,lineColors:sloLineColors,pointOrder:[['S',sloS.concat(sloMoreS)],['Density',sloDensity.concat(sloMoreDensity)],['CWMLPC',sloCWMLPC.concat(sloMoreCWMLPC)]]});

/* ---------- shared y title ---------- */
const yTitle = mk('text', {transform: 'translate(36,600) rotate(-90)', 'text-anchor': 'middle', 'font-size': 40, fill: '#111', 'font-family': '"Liberation Serif",serif', textLength: 434, lengthAdjust: 'spacingAndGlyphs'});
yTitle.textContent = 'Forest multifunctionality';



/* ---------- legend ---------- */
const legendG = mk('g', {});


const legendKeyLeft = [245,344,477,649,864];
const legendLabelLeft = [310,407,539,713,926];
legendKeyLeft.forEach(function(kx){
  const r = mk('rect', {x: kx, y: 7, width: 47, height: 95, fill: '#cccccc'}, legendG);
  
  
});
function legendEntry(name, kx, lx, yMid, yText){
  const l = mk('line', {x1: kx + 6, y1: yMid, x2: kx + 43, y2: yMid, stroke: keyColors[name], 'stroke-width': 6}, legendG);
  
  
  const c = mk('circle', {cx: kx + 24, cy: yMid, r: 6, fill: keyColors[name]}, legendG);
  
  
  const t = mk('text', {x: lx, y: yText, 'font-size': 27, fill: '#111', 'font-family': '"Liberation Sans",sans-serif'}, legendG);
  t.textContent = name;
  
  
}
legendRow1.slice(0,5).forEach(function(n,i){ legendEntry(n, legendKeyLeft[i], legendLabelLeft[i], 31, 41); });
legendRow2.forEach(function(n,i){ legendEntry(n, legendKeyLeft[i], legendLabelLeft[i], 78, 88); });
const lastKey = mk('rect', {x: 1051, y: 8, width: 47, height: 49, fill: '#cccccc'}, legendG);


legendEntry(legendRow1[5], 1051, 1113, 33, 43);
</script>
</body>
</html>
